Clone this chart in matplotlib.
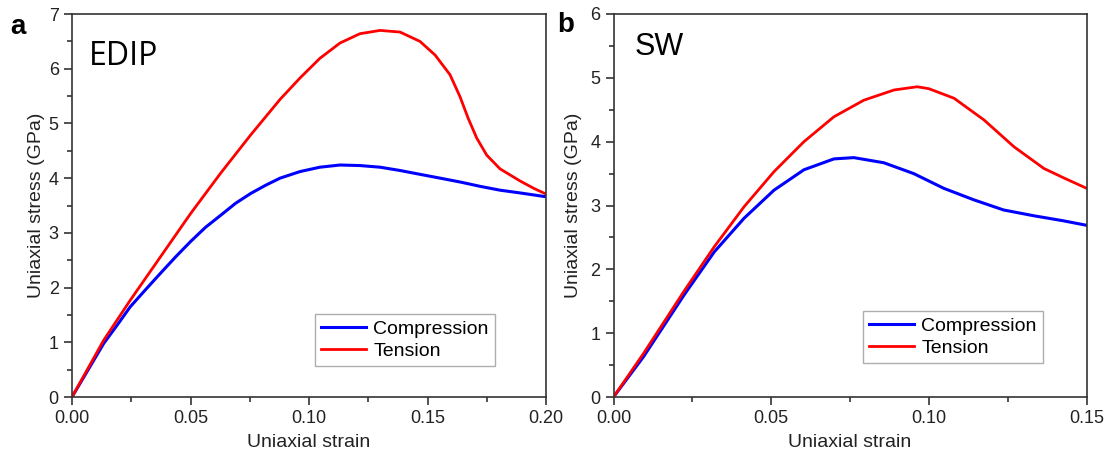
import numpy as np
import matplotlib.pyplot as plt
from matplotlib.ticker import MultipleLocator

plt.rcParams['font.family'] = ['Liberation Sans', 'DejaVu Sans']

# EDIP (panel a)
edip_comp_x = [0, 0.0134, 0.019, 0.0246, 0.031, 0.0373, 0.0437, 0.05, 0.0563, 0.0627,
               0.069, 0.0754, 0.0817, 0.0878, 0.0962, 0.1046, 0.1131, 0.1215, 0.13,
               0.1384, 0.1468, 0.1553, 0.1637, 0.1722, 0.1806, 0.189, 0.2]
edip_comp_y = [0, 0.98, 1.31, 1.65, 1.96, 2.26, 2.56, 2.84, 3.10, 3.32,
               3.54, 3.72, 3.87, 4.00, 4.12, 4.20, 4.24, 4.23, 4.20,
               4.14, 4.07, 4.00, 3.93, 3.85, 3.78, 3.73, 3.66]
edip_tens_x = [0, 0.0134, 0.0246, 0.0373, 0.05, 0.0627, 0.0754, 0.0878, 0.0962, 0.1046,
               0.1131, 0.1215, 0.13, 0.1384, 0.1468, 0.1532, 0.1595, 0.1637, 0.1672,
               0.1708, 0.175, 0.1806, 0.189, 0.195, 0.2]
edip_tens_y = [0, 1.04, 1.77, 2.56, 3.35, 4.09, 4.79, 5.44, 5.83, 6.19,
               6.47, 6.64, 6.70, 6.67, 6.50, 6.25, 5.89, 5.49, 5.09,
               4.73, 4.42, 4.17, 3.95, 3.81, 3.71]

# SW (panel b)
sw_comp_x = [0, 0.0095, 0.0224, 0.0319, 0.0414, 0.0509, 0.0604, 0.0699, 0.0762, 0.0857,
             0.0952, 0.1047, 0.1142, 0.1237, 0.1332, 0.1427, 0.15]
sw_comp_y = [0, 0.63, 1.60, 2.27, 2.80, 3.24, 3.56, 3.73, 3.75, 3.67,
             3.50, 3.27, 3.09, 2.93, 2.84, 2.76, 2.69]
sw_tens_x = [0, 0.0095, 0.0224, 0.0319, 0.0414, 0.0509, 0.0604, 0.0699, 0.0794, 0.089,
             0.0963, 0.1, 0.108, 0.1175, 0.127, 0.1365, 0.1429, 0.15]
sw_tens_y = [0, 0.68, 1.66, 2.35, 2.98, 3.53, 4.00, 4.39, 4.65, 4.81,
             4.86, 4.83, 4.68, 4.34, 3.92, 3.58, 3.43, 3.27]

W, H = 1109, 459
fig = plt.figure(figsize=(W / 100, H / 100), dpi=100)
ax1 = fig.add_axes([72 / W, 62 / H, 474 / W, 383 / H])
ax2 = fig.add_axes([613.5 / W, 62 / H, 473 / W, 383 / H])


def style(ax, xmax, ymax, xmajor, ymajor, legpos, ypad):
    ax.set_xlim(0, xmax)
    ax.set_ylim(0, ymax)
    ax.xaxis.set_major_locator(MultipleLocator(xmajor))
    ax.xaxis.set_minor_locator(MultipleLocator(xmajor / 2))
    ax.yaxis.set_major_locator(MultipleLocator(ymajor))
    ax.yaxis.set_minor_locator(MultipleLocator(ymajor / 2))
    ax.xaxis.set_major_formatter(plt.FormatStrFormatter('%.2f'))
    ax.tick_params(which='major', direction='out', length=6, width=1.2,
                   labelsize=13, colors='#333333', labelcolor='#222222')
    ax.tick_params(which='minor', direction='out', length=3.5, width=1.2, colors='#333333')
    for s in ax.spines.values():
        s.set_linewidth(1.2)
        s.set_color('#333333')
    ax.set_xlabel('Uniaxial strain', fontsize=14, labelpad=5, color='#222222')
    ax.set_ylabel('Uniaxial stress (GPa)', fontsize=14, labelpad=ypad, color='#222222')
    leg = ax.legend(loc='lower left', bbox_to_anchor=legpos, fontsize=14,
                    frameon=True, fancybox=False, handlelength=2.3,
                    handletextpad=0.4, borderpad=0.3, labelspacing=0.25,
                    borderaxespad=0)
    leg.get_frame().set_edgecolor('#999999')
    leg.get_frame().set_linewidth(1.0)


ax1.plot(edip_comp_x, edip_comp_y, color='#0000ff', lw=2.2, label='Compression',
         solid_joinstyle='round')
ax1.plot(edip_tens_x, edip_tens_y, color='#ff0000', lw=2, label='Tension',
         solid_joinstyle='round')
style(ax1, 0.2, 7, 0.05, 1, ((315 - 72) / 474, (397 - 366) / 383), 3)
ax1.text(0.035, 0.89, 'EDIP', transform=ax1.transAxes, fontsize=23,
         family=['Open Sans', 'DejaVu Sans'], va='center', ha='left')

ax2.plot(sw_comp_x, sw_comp_y, color='#0000ff', lw=2.2, label='Compression',
         solid_joinstyle='round')
ax2.plot(sw_tens_x, sw_tens_y, color='#ff0000', lw=2, label='Tension',
         solid_joinstyle='round')
style(ax2, 0.15, 6, 0.05, 1, ((863 - 613.5) / 473, (397 - 363) / 383), 6)
ax2.text(0.045, 0.915, 'SW', transform=ax2.transAxes, fontsize=22,
         va='center', ha='left')

fig.text(10 / W, 1 - 27 / H, 'a', fontsize=20, fontweight='bold', va='center')
fig.text(557 / W, 1 - 25 / H, 'b', fontsize=20, fontweight='bold', va='center')

fig.savefig('out.png', dpi=100)
